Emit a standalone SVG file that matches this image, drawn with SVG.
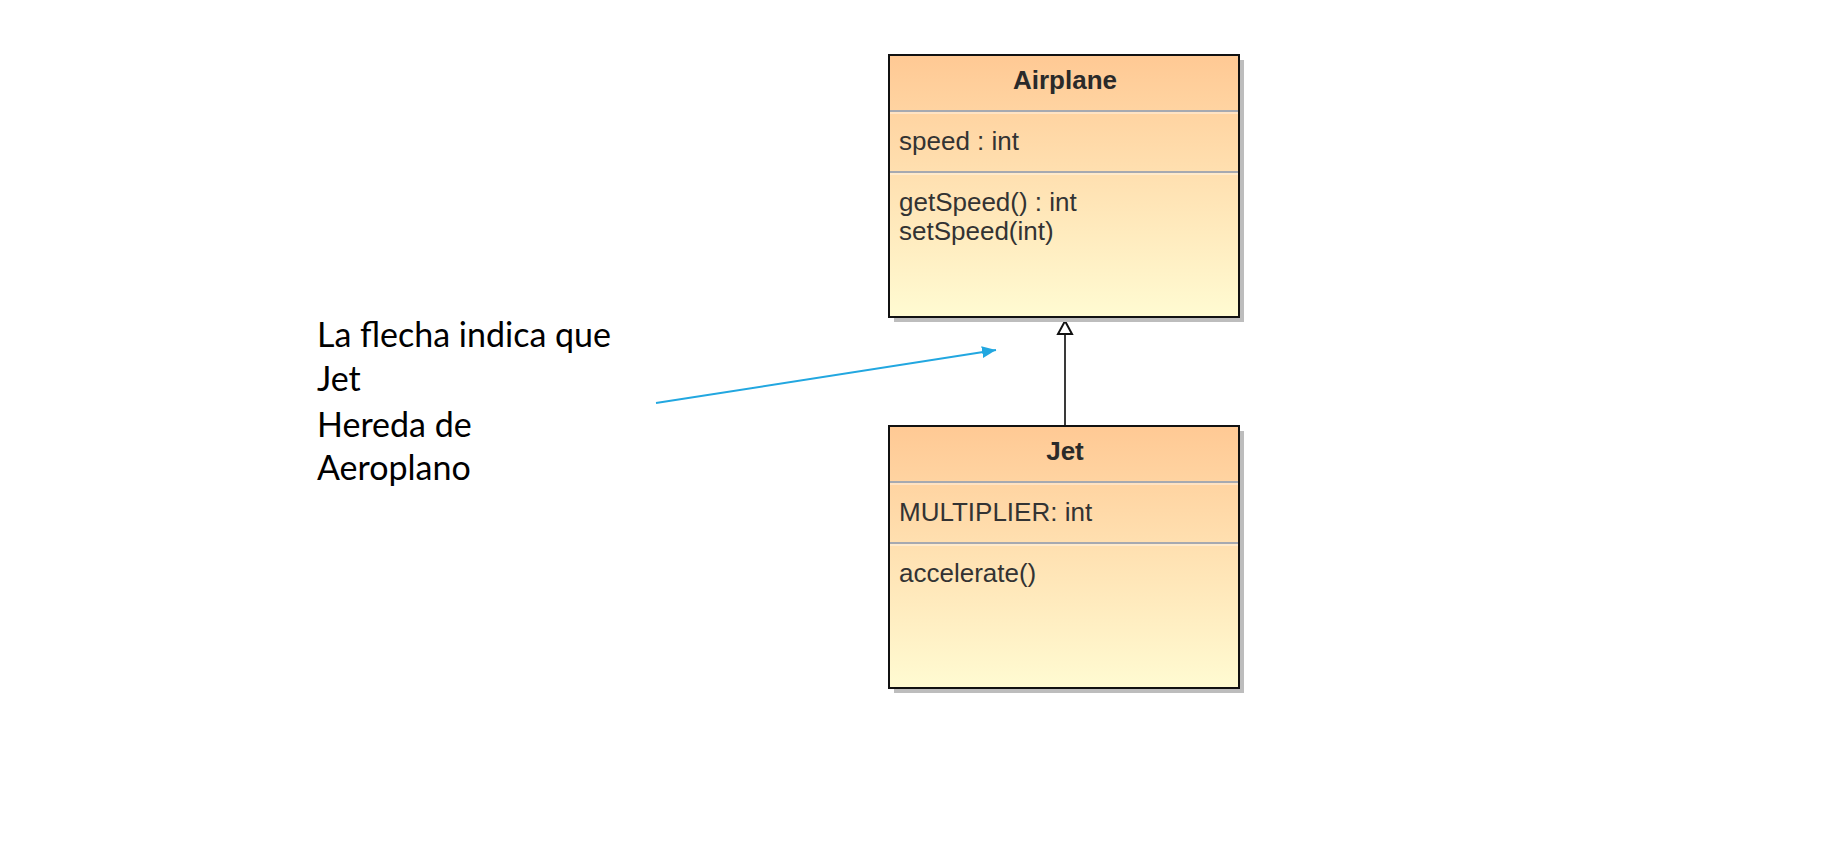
<svg xmlns="http://www.w3.org/2000/svg" width="1838" height="859" viewBox="0 0 1838 859">
  <style>
    .shadow { fill: #bdbdbd; }
    .box { fill: url(#boxGrad); stroke: #111; stroke-width: 2; }
    .div { stroke: #a6a9b0; stroke-width: 2; }
    .divhi { stroke: #ffffff; stroke-width: 1; opacity: 0.7; }
    .title { font-family: "Liberation Sans", Arial, sans-serif; font-size: 26px; font-weight: bold; fill: #2a2a2a; text-anchor: middle; }
    .member { font-family: "Liberation Sans", Arial, sans-serif; font-size: 26px; fill: #333333; }
    .note { font-family: Lato, "Open Sans", sans-serif; font-size: 34px; fill: #000000; }
  </style>
  <defs>
    <linearGradient id="boxGrad" x1="0" y1="0" x2="0" y2="1">
      <stop offset="0" stop-color="#ffc994"/>
      <stop offset="1" stop-color="#fffbd2"/>
    </linearGradient>
    <marker id="blueArrow" markerWidth="16" markerHeight="14" refX="14" refY="6" orient="auto" markerUnits="userSpaceOnUse" viewBox="0 0 16 12">
      <path d="M0 0 L14 6 L0 12 Z" fill="#22a7e0"/>
    </marker>
  </defs>

  <rect width="1838" height="859" fill="#ffffff"/>

  <g id="connectors">
    <line x1="1065" y1="427" x2="1065" y2="335" stroke="#3a3a3a" stroke-width="2"/>
    <path d="M1065 321 L1072 334 L1058 334 Z" fill="#ffffff" stroke="#111" stroke-width="2"/>
    <line x1="656" y1="403" x2="996" y2="350" stroke="#22a7e0" stroke-width="2" marker-end="url(#blueArrow)"/>
  </g>

  <g id="airplane">
    <rect class="shadow" x="894" y="60" width="350" height="262"/>
    <rect class="box" x="889" y="55" width="350" height="262"/>
    <line class="div" x1="890" y1="111" x2="1238" y2="111"/>
    <line class="divhi" x1="890" y1="113" x2="1238" y2="113"/>
    <line class="div" x1="890" y1="172" x2="1238" y2="172"/>
    <line class="divhi" x1="890" y1="174" x2="1238" y2="174"/>
    <text class="title" x="1065" y="89">Airplane</text>
    <text class="member" x="899" y="150">speed : int</text>
    <text class="member" x="899" y="211">getSpeed() : int</text>
    <text class="member" x="899" y="240">setSpeed(int)</text>
  </g>

  <g id="jet">
    <rect class="shadow" x="894" y="431" width="350" height="262"/>
    <rect class="box" x="889" y="426" width="350" height="262"/>
    <line class="div" x1="890" y1="482" x2="1238" y2="482"/>
    <line class="divhi" x1="890" y1="484" x2="1238" y2="484"/>
    <line class="div" x1="890" y1="543" x2="1238" y2="543"/>
    <line class="divhi" x1="890" y1="545" x2="1238" y2="545"/>
    <text class="title" x="1065" y="460">Jet</text>
    <text class="member" x="899" y="521">MULTIPLIER: int</text>
    <text class="member" x="899" y="582">accelerate()</text>
  </g>

  <g id="note">
    <text class="note" x="317" y="347">La flecha indica que</text>
    <text class="note" x="317" y="391">Jet</text>
    <text class="note" x="317" y="437">Hereda de</text>
    <text class="note" x="317" y="480">Aeroplano</text>
  </g>
</svg>
